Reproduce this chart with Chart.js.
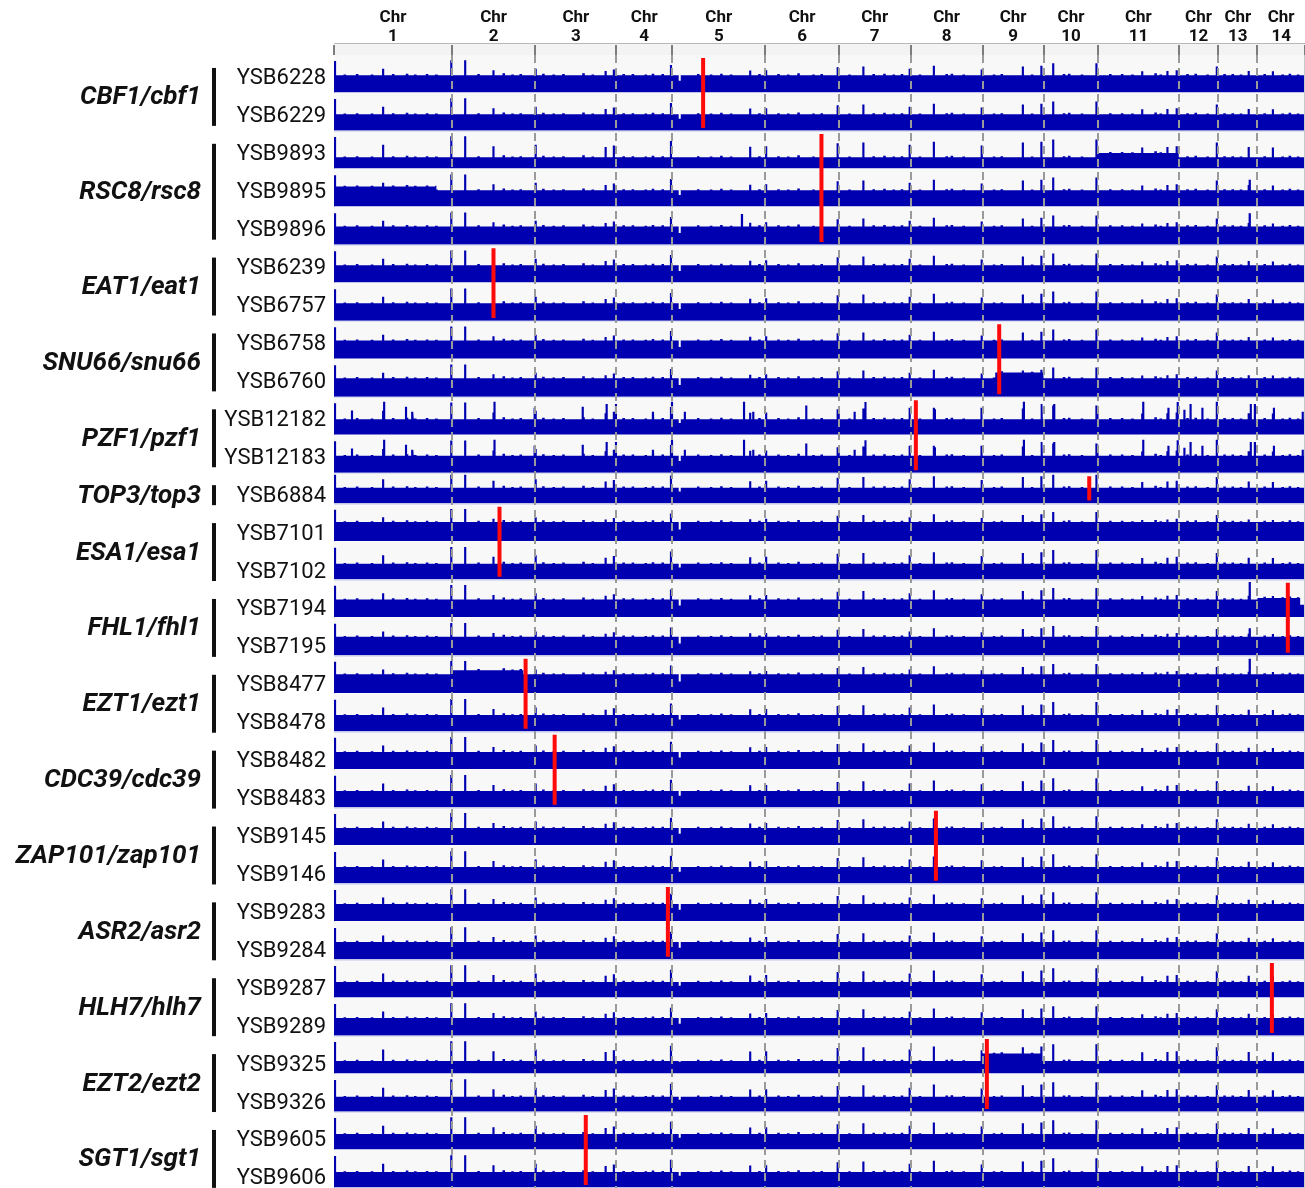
<!DOCTYPE html>
<html>
<head>
<meta charset="utf-8">
<script src="https://cdn.jsdelivr.net/npm/chart.js@4.4.1/dist/chart.umd.min.js"></script>
<style>
  html, body { margin: 0; padding: 0; background: #fff; overflow: hidden; }
  #wrap { width: 1305px; height: 1188px; }
</style>
</head>
<body>
<div id="wrap"><canvas id="covChart" width="1305" height="1188"></canvas></div>
<script>
// chromosome sizes in Mb
const chromNames = ['1', '2', '3', '4', '5', '6', '7', '8', '9', '10', '11', '12', '13', '14'];
const chromSizes = [2.2915, 1.6217, 1.5745, 1.0848, 1.8145, 1.4225, 1.3995, 1.3987, 1.1868, 1.0600, 1.5620, 0.7741, 0.7567, 0.9266];

// tracks, top to bottom
const strains = ['YSB6228', 'YSB6229', 'YSB9893', 'YSB9895', 'YSB9896', 'YSB6239', 'YSB6757', 'YSB6758', 'YSB6760',
    'YSB12182', 'YSB12183', 'YSB6884', 'YSB7101', 'YSB7102', 'YSB7194', 'YSB7195', 'YSB8477', 'YSB8478',
    'YSB8482', 'YSB8483', 'YSB9145', 'YSB9146', 'YSB9283', 'YSB9284', 'YSB9287', 'YSB9289', 'YSB9325',
    'YSB9326', 'YSB9605', 'YSB9606'];

const groupNames = ['CBF1/cbf1', 'RSC8/rsc8', 'EAT1/eat1', 'SNU66/snu66', 'PZF1/pzf1', 'TOP3/top3', 'ESA1/esa1',
    'FHL1/fhl1', 'EZT1/ezt1', 'CDC39/cdc39', 'ZAP101/zap101', 'ASR2/asr2', 'HLH7/hlh7', 'EZT2/ezt2', 'SGT1/sgt1'];
const groupSizes = [2, 3, 2, 2, 2, 1, 2, 2, 2, 2, 2, 2, 2, 2, 2];

// position of the mutated gene, genome coordinate (Mb)
const markerPos = [7.175, 9.475, 3.10, 12.93, 11.31, 14.68, 3.217, 18.54, 3.724, 4.289, 11.70, 6.49, 18.23, 12.69, 4.894];

// usual read depth of each track (fraction of a track's height)
const baseLevel = [0.45, 0.42, 0.29, 0.42, 0.47, 0.45, 0.45, 0.47, 0.48, 0.40, 0.44, 0.40, 0.50, 0.40, 0.46,
    0.48, 0.49, 0.42, 0.45, 0.42, 0.45, 0.42, 0.45, 0.45, 0.40, 0.45, 0.32, 0.38, 0.40, 0.40];

// peaks seen in every track [Mb, height]
const commonSpikes = [[0.02, 0.82], [0.955, 0.62], [2.28, 0.84], [2.55, 0.84], [3.10, 0.58], [3.92, 0.62],
    [5.28, 0.56], [5.44, 0.60], [6.55, 0.72], [8.09, 0.57], [8.40, 0.58], [9.79, 0.66], [10.29, 0.68],
    [11.19, 0.62], [11.66, 0.70], [12.59, 0.60], [13.39, 0.68], [13.75, 0.70], [13.98, 0.76], [14.82, 0.76],
    [15.71, 0.55], [16.20, 0.56], [16.38, 0.58], [17.16, 0.68], [17.78, 0.56], [18.25, 0.55]];

// small bumps above the usual depth [Mb, rise]
const commonBumps = [[0.21, 0.02], [0.45, 0.03], [0.74, 0.02], [1.15, 0.03], [1.42, 0.04], [1.58, 0.02],
    [1.81, 0.03], [1.99, 0.02], [2.81, 0.03], [3.30, 0.05], [3.47, 0.02], [3.63, 0.03], [4.07, 0.04],
    [4.27, 0.02], [4.46, 0.03], [4.85, 0.05], [5.03, 0.02], [5.63, 0.03], [5.81, 0.03], [6.06, 0.02],
    [6.20, 0.04], [6.39, 0.03], [7.08, 0.03], [7.33, 0.02], [7.53, 0.04], [7.72, 0.02], [8.27, 0.03],
    [8.64, 0.03], [8.83, 0.02], [9.03, 0.05], [9.32, 0.02], [9.48, 0.03], [10.02, 0.02], [10.49, 0.03],
    [10.70, 0.04], [10.88, 0.02], [11.04, 0.03], [11.39, 0.02], [11.91, 0.03], [12.01, 0.04], [12.24, 0.02],
    [12.83, 0.02], [12.98, 0.03], [13.57, 0.02], [14.19, 0.03], [14.29, 0.04], [14.54, 0.02], [15.09, 0.03],
    [15.32, 0.03], [15.52, 0.02], [15.97, 0.05], [16.07, 0.02], [16.59, 0.03], [16.75, 0.04], [16.98, 0.02],
    [17.31, 0.03], [17.47, 0.03], [17.63, 0.02], [18.09, 0.03], [18.44, 0.02], [18.58, 0.04], [18.74, 0.02]];

// drop in depth at the start of chr 5 [startMb, endMb, level]
const commonDips = [[6.70, 6.74, 0.30]];

// extra peaks in the PZF1/pzf1 tracks [Mb, height]
const pzfRows = [9, 10];
const pzfSpikes = [[0.35, 0.63], [0.975, 0.86], [1.40, 0.73], [1.52, 0.60], [3.12, 0.86], [3.90, 0.70],
    [4.835, 0.73], [5.30, 0.80], [5.48, 0.80], [6.20, 0.60], [6.57, 0.86], [6.82, 0.60], [7.97, 0.86],
    [8.15, 0.60], [9.18, 0.76], [9.81, 0.60], [10.12, 0.60], [10.33, 0.85], [11.19, 0.70], [11.68, 0.66],
    [12.58, 0.70], [13.41, 0.86], [13.76, 0.80], [14.00, 0.80], [14.84, 0.73], [15.73, 0.86], [16.22, 0.70],
    [16.40, 0.85], [16.53, 0.65], [16.65, 0.80], [16.88, 0.70], [17.16, 0.86], [17.82, 0.80], [17.90, 0.80],
    [18.27, 0.70], [18.83, 0.60]];

// peaks seen in one track only [row, Mb, height]
const trackSpikes = [[4, 7.93, 0.80], [4, 17.80, 0.82], [3, 17.80, 0.70], [14, 17.80, 0.92], [15, 17.80, 0.70],
    [16, 17.80, 0.90]];

// copy number changes [row, startMb, endMb, level]
const cnvSegments = [[2, 14.85, 16.42, 0.40], [3, 0.00, 1.99, 0.52], [8, 12.85, 13.79, 0.63],
    [16, 2.30, 3.68, 0.60], [26, 12.60, 13.76, 0.52], [14, 17.95, 18.78, 0.50], [14, 18.78, 18.87, 0.32]];

/////////////
// Layout  //
/////////////

const blue = '#0000b0';
// the single TOP3 track is drawn a bit shorter
const rowSpan = strains.map((s, i) => (i === 11 ? 0.8 : 1));
const rowTop = [];
let yAcc = 0;
rowSpan.forEach(h => { rowTop.push(yAcc); yAcc += h; });
const yTotal = yAcc;

const totalMb = chromSizes.reduce((a, b) => a + b, 0);
const chromStarts = [];
let mbAcc = 0;
chromSizes.forEach(s => { chromStarts.push(mbAcc); mbAcc += s; });

// x ticks: chromosome boundaries (grid) + centres (labels)
const xTicks = [];
chromStarts.forEach((st, i) => {
    xTicks.push({ value: st, kind: 'edge' });
    xTicks.push({ value: st + chromSizes[i] / 2, kind: 'label', text: ['Chr', chromNames[i]] });
});
xTicks.push({ value: totalMb, kind: 'edge' });

function toY(row, lv) {
    const h = Math.min(lv, rowSpan[row] - 0.06);
    return rowTop[row] + rowSpan[row] - 0.02 - h;
}

function buildTrack(row) {
    const base = baseLevel[row];
    const segs = cnvSegments.filter(s => s[0] === row);
    const rects = [];
    commonSpikes.forEach(s => rects.push([s[0] - 0.021, s[0] + 0.021, s[1], 'max']));
    commonBumps.forEach(b => rects.push([b[0] - 0.025, b[0] + 0.025, b[1], 'add']));
    if (pzfRows.includes(row)) {
        pzfSpikes.forEach(s => rects.push([s[0] - 0.021, s[0] + 0.021, s[1], 'max']));
    }
    trackSpikes.filter(s => s[0] === row).forEach(s => rects.push([s[1] - 0.022, s[1] + 0.022, s[2], 'max']));
    commonDips.forEach(d => rects.push([d[0], d[1], d[2], 'min']));

    const edges = new Set([0, totalMb]);
    segs.forEach(s => { edges.add(s[1]); edges.add(s[2]); });
    rects.forEach(r => { edges.add(Math.max(0, r[0])); edges.add(Math.min(totalMb, r[1])); });
    const xs = [...edges].sort((a, b) => a - b);

    const pts = [];
    for (let k = 0; k < xs.length - 1; k++) {
        const mid = (xs[k] + xs[k + 1]) / 2;
        let lv = base;
        segs.forEach(s => { if (mid >= s[1] && mid < s[2]) lv = s[3]; });
        const bg = lv;
        rects.forEach(r => {
            if (mid >= r[0] && mid < r[1]) {
                if (r[3] === 'max') lv = Math.max(lv, r[2]);
                else if (r[3] === 'add') lv = Math.max(lv, bg + r[2]);
                else lv = Math.min(lv, r[2]);
            }
        });
        pts.push({ x: xs[k], y: toY(row, lv) }, { x: xs[k + 1], y: toY(row, lv) });
    }
    return pts;
}

const datasets = [];
strains.forEach((s, i) => {
    datasets.push({
        label: s,
        data: buildTrack(i),
        borderColor: blue,
        backgroundColor: blue,
        borderWidth: 0,
        pointRadius: 0,
        tension: 0,
        fill: { value: rowTop[i] + rowSpan[i] - 0.02 },
        order: 2
    });
});

// red markers across each group
let gRow = 0;
groupNames.forEach((g, gi) => {
    const first = gRow;
    const last = gRow + groupSizes[gi] - 1;
    datasets.push({
        label: g,
        data: [{ x: markerPos[gi], y: rowTop[first] + 0.08 }, { x: markerPos[gi], y: rowTop[last] + rowSpan[last] - 0.08 }],
        borderColor: '#ff0a0a',
        borderWidth: 4,
        borderCapStyle: 'butt',
        pointRadius: 0,
        fill: false,
        order: 0
    });
    gRow = last + 1;
});

// strain labels are evenly spaced down the page
function labelValue(i) {
    return 0.63 + i * (28.93 / 29);
}

/////////////
// Plugins //
/////////////

const panels = {
    id: 'panels',
    beforeDraw(chart) {
        const ctx = chart.ctx;
        const a = chart.chartArea;
        ctx.save();
        // ruler strip above the tracks
        ctx.fillStyle = '#f3f3f3';
        ctx.fillRect(a.left, a.top - 12, a.right - a.left, 12);
        ctx.fillStyle = '#b8b8b8';
        ctx.fillRect(a.left, a.top - 12, a.right - a.left, 1);
        ctx.restore();
    },
    beforeDatasetsDraw(chart) {
        const ctx = chart.ctx;
        const a = chart.chartArea;
        const y = chart.scales.y;
        ctx.save();
        strains.forEach((s, i) => {
            const t = y.getPixelForValue(rowTop[i]);
            const b = y.getPixelForValue(rowTop[i] + rowSpan[i]);
            ctx.fillStyle = '#f8f8f8';
            ctx.fillRect(a.left, t, a.right - a.left, b - t - 1);
        });
        // thin line at the top of each group
        let r = 0;
        groupSizes.forEach((n, gi) => {
            if (gi > 0) {
                const t = Math.round(y.getPixelForValue(rowTop[r])) - 1;
                ctx.fillStyle = '#c3c6ea';
                ctx.fillRect(a.left, t, a.right - a.left, 1.5);
            }
            r += n;
        });
        ctx.restore();
    },
    afterDraw(chart) {
        const ctx = chart.ctx;
        const a = chart.chartArea;
        const y = chart.scales.y;
        ctx.save();
        // right edge
        ctx.fillStyle = '#c8c8c8';
        ctx.fillRect(a.right - 1, a.top, 1, a.bottom - a.top);
        // group labels with bars
        let r = 0;
        groupNames.forEach((name, gi) => {
            const first = r;
            const last = r + groupSizes[gi] - 1;
            const yTop = y.getPixelForValue(labelValue(first)) - 11;
            const yBot = y.getPixelForValue(labelValue(last)) + 9;
            ctx.fillStyle = '#111';
            ctx.fillRect(212, yTop, 4, yBot - yTop);
            ctx.font = 'italic bold 26px Roboto';
            ctx.textAlign = 'right';
            ctx.textBaseline = 'middle';
            ctx.fillText(name, 201, (yTop + yBot) / 2 + 1);
            r = last + 1;
        });
        ctx.restore();
    }
};

const ctx = document.getElementById('covChart').getContext('2d');
new Chart(ctx, {
    type: 'line',
    data: { datasets: datasets },
    options: {
        responsive: false,
        animation: false,
        parsing: false,
        normalized: true,
        events: [],
        layout: { padding: 0 },
        plugins: {
            legend: { display: false },
            tooltip: { enabled: false }
        },
        scales: {
            x: {
                type: 'linear',
                position: 'top',
                min: 0,
                max: totalMb,
                afterFit: scale => {
                    scale.height = 55;
                    scale.paddingLeft = 0;
                    scale.paddingRight = 0;
                },
                afterBuildTicks: scale => { scale.ticks = xTicks.map(t => ({ value: t.value })); },
                ticks: {
                    autoSkip: false,
                    maxRotation: 0,
                    padding: -2,
                    color: '#111',
                    font: { family: 'Roboto', size: 17, weight: 'bold', lineHeight: 1.15 },
                    callback: (value, index) => (xTicks[index].kind === 'label' ? xTicks[index].text : '')
                },
                grid: {
                    z: 1,
                    lineWidth: 2,
                    tickLength: 10,
                    tickWidth: 1.5,
                    tickBorderDash: [],
                    color: c => {
                        const t = xTicks[c.index];
                        if (!t || t.kind !== 'edge' || t.value === 0 || t.value === totalMb) return 'rgba(0,0,0,0)';
                        return '#9a9a9a';
                    },
                    tickColor: c => {
                        const t = xTicks[c.index];
                        return t && t.kind === 'edge' ? '#555' : 'rgba(0,0,0,0)';
                    }
                },
                border: { display: false, dash: [8, 5] }
            },
            y: {
                type: 'linear',
                reverse: true,
                min: 0,
                max: yTotal,
                afterFit: scale => {
                    scale.width = 334;
                    scale.paddingTop = 0;
                    scale.paddingBottom = 0;
                },
                afterBuildTicks: scale => { scale.ticks = strains.map((s, i) => ({ value: labelValue(i) })); },
                ticks: {
                    autoSkip: false,
                    padding: 8,
                    color: '#111',
                    font: { family: 'Roboto', size: 22 },
                    callback: (value, index) => strains[index]
                },
                grid: { display: false, drawTicks: false },
                border: { display: true, color: '#c8c8c8', width: 1 }
            }
        }
    },
    plugins: [panels]
});
</script>
</body>
</html>
